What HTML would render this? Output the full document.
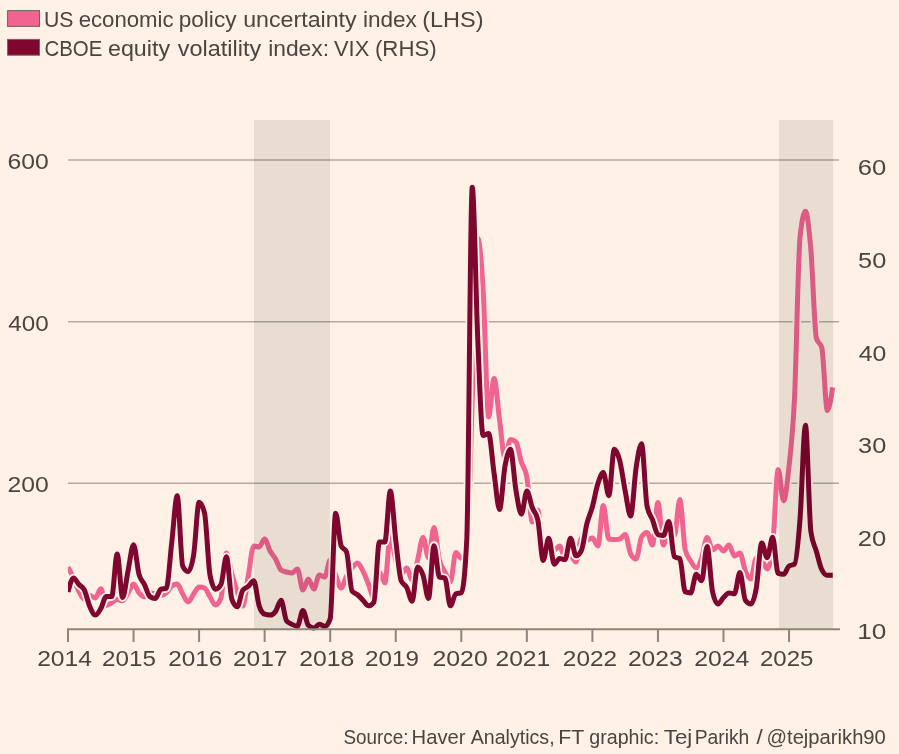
<!DOCTYPE html>
<html lang="en"><head><meta charset="utf-8"><title>US economic policy uncertainty and VIX</title>
<style>
html,body{margin:0;padding:0;background:#FFF1E5;}
body{width:899px;height:754px;overflow:hidden;}
svg{display:block;}
text{font-family:"Liberation Sans",Arial,Helvetica,sans-serif;fill:#4A4542;}
</style></head><body>
<svg width="899" height="754" viewBox="0 0 899 754">
<defs><clipPath id="plot"><rect x="68" y="100" width="780" height="540"/></clipPath></defs>
<rect x="0" y="0" width="899" height="754" fill="#FFF1E5"/>
<g id="legend-swatches">
<rect x="7.6" y="10.6" width="31.9" height="15.8" fill="#F0648F" stroke="#6b6662" stroke-width="1"/>
<rect x="7.6" y="39.4" width="31.9" height="15.8" fill="#7F062E" stroke="#6b6662" stroke-width="1"/>
</g>
<g id="grid" stroke="#B3A9A0" stroke-width="1.6" fill="none">
<line x1="68" y1="160" x2="839" y2="160"/>
<line x1="68" y1="321.7" x2="839" y2="321.7"/>
<line x1="68" y1="483.3" x2="839" y2="483.3"/>
</g>
<g id="lines" fill="none" stroke-linejoin="round" stroke-linecap="butt" clip-path="url(#plot)">
<path d="M68.00,567.30C69.82,570.64 71.64,573.98 73.46,578.00C75.28,582.02 77.10,587.83 78.92,591.40C80.75,594.97 82.57,599.40 84.39,599.40C86.21,599.40 88.03,595.40 89.85,595.40C91.67,595.40 93.49,598.00 95.31,598.00C97.13,598.00 98.95,588.70 100.78,588.70C102.60,588.70 104.42,605.40 106.24,605.40C108.06,605.40 109.88,603.80 111.70,602.80C113.52,601.80 115.34,599.40 117.16,599.40C118.98,599.40 120.80,600.80 122.62,600.80C124.45,600.80 126.27,595.60 128.09,592.80C129.91,590.00 131.73,584.00 133.55,584.00C135.37,584.00 137.19,590.67 139.01,592.80C140.83,594.93 142.65,596.80 144.48,596.80C146.30,596.80 148.12,592.80 149.94,592.80C151.76,592.80 153.58,593.57 155.40,594.00C157.22,594.43 159.04,595.40 160.86,595.40C162.68,595.40 164.50,594.37 166.32,592.80C168.15,591.23 169.97,587.33 171.79,586.00C173.61,584.67 175.43,584.00 177.25,584.00C179.07,584.00 180.89,591.00 182.71,594.00C184.53,597.00 186.35,602.00 188.18,602.00C190.00,602.00 191.82,596.50 193.64,594.00C195.46,591.50 197.28,587.00 199.10,587.00C200.92,587.00 202.74,587.33 204.56,588.00C206.38,588.67 208.20,594.17 210.03,597.00C211.85,599.83 213.67,605.00 215.49,605.00C217.31,605.00 219.13,602.67 220.95,598.00C222.77,593.33 224.59,553.00 226.41,553.00C228.23,553.00 230.05,567.50 231.88,574.00C233.70,580.50 235.52,586.67 237.34,592.00C239.16,597.33 240.98,606.00 242.80,606.00C244.62,606.00 246.44,586.00 248.26,576.00C250.08,566.00 251.90,546.00 253.73,546.00C255.55,546.00 257.37,547.00 259.19,547.00C261.01,547.00 262.83,539.00 264.65,539.00C266.47,539.00 268.29,547.67 270.11,551.00C271.93,554.33 273.75,555.83 275.58,559.00C277.40,562.17 279.22,568.67 281.04,570.00C282.86,571.33 284.68,571.50 286.50,572.00C288.32,572.50 290.14,573.00 291.96,573.00C293.78,573.00 295.60,569.00 297.43,569.00C299.25,569.00 301.07,590.00 302.89,590.00C304.71,590.00 306.53,579.00 308.35,579.00C310.17,579.00 311.99,589.00 313.81,589.00C315.63,589.00 317.45,575.00 319.27,575.00C321.10,575.00 322.92,577.00 324.74,577.00C326.56,577.00 328.38,560.00 330.20,560.00C332.02,560.00 333.84,570.33 335.66,575.00C337.48,579.67 339.30,588.00 341.12,588.00C342.95,588.00 344.77,579.33 346.59,576.00C348.41,572.67 350.23,570.17 352.05,568.00C353.87,565.83 355.69,563.00 357.51,563.00C359.33,563.00 361.15,567.50 362.98,571.00C364.80,574.50 366.62,579.50 368.44,584.00C370.26,588.50 372.08,598.00 373.90,598.00C375.72,598.00 377.54,572.00 379.36,572.00C381.18,572.00 383.00,583.00 384.83,583.00C386.65,583.00 388.47,536.00 390.29,536.00C392.11,536.00 393.93,553.67 395.75,560.00C397.57,566.33 399.39,574.00 401.21,574.00C403.03,574.00 404.85,568.00 406.68,568.00C408.50,568.00 410.32,580.00 412.14,580.00C413.96,580.00 415.78,567.08 417.60,560.00C419.42,552.92 421.24,537.50 423.06,537.50C424.88,537.50 426.70,558.00 428.53,558.00C430.35,558.00 432.17,527.50 433.99,527.50C435.81,527.50 437.63,552.58 439.45,560.00C441.27,567.42 443.09,568.33 444.91,572.00C446.73,575.67 448.55,582.00 450.38,582.00C452.20,582.00 454.02,552.50 455.84,552.50C457.66,552.50 459.48,558.00 461.30,558.00C463.12,558.00 464.94,556.00 466.76,552.00C468.58,548.00 470.40,452.33 472.23,400.00C474.05,347.67 475.87,238.00 477.69,238.00C479.51,238.00 481.33,260.17 483.15,290.00C484.97,319.83 486.79,417.00 488.61,417.00C490.43,417.00 492.25,378.40 494.08,378.40C495.90,378.40 497.72,406.73 499.54,420.00C501.36,433.27 503.18,458.00 505.00,458.00C506.82,458.00 508.64,439.60 510.46,439.60C512.28,439.60 514.10,440.40 515.92,442.00C517.75,443.60 519.57,456.17 521.39,462.00C523.21,467.83 525.03,467.00 526.85,477.00C528.67,487.00 530.49,522.00 532.31,522.00C534.13,522.00 535.95,510.00 537.78,510.00C539.60,510.00 541.42,552.00 543.24,552.00C545.06,552.00 546.88,545.00 548.70,545.00C550.52,545.00 552.34,550.00 554.16,550.00C555.98,550.00 557.80,546.00 559.62,546.00C561.45,546.00 563.27,558.00 565.09,558.00C566.91,558.00 568.73,556.00 570.55,556.00C572.37,556.00 574.19,562.00 576.01,562.00C577.83,562.00 579.65,538.00 581.48,538.00C583.30,538.00 585.12,540.00 586.94,540.00C588.76,540.00 590.58,538.00 592.40,538.00C594.22,538.00 596.04,546.00 597.86,546.00C599.68,546.00 601.50,505.60 603.33,505.60C605.15,505.60 606.97,538.60 608.79,539.00C610.61,539.40 612.43,539.60 614.25,539.60C616.07,539.60 617.89,539.40 619.71,539.00C621.53,538.60 623.35,534.60 625.18,534.60C627.00,534.60 628.82,550.67 630.64,554.00C632.46,557.33 634.28,559.00 636.10,559.00C637.92,559.00 639.74,540.00 641.56,537.00C643.38,534.00 645.20,532.50 647.03,532.50C648.85,532.50 650.67,545.00 652.49,545.00C654.31,545.00 656.13,502.40 657.95,502.40C659.77,502.40 661.59,545.00 663.41,545.00C665.23,545.00 667.05,530.00 668.88,530.00C670.70,530.00 672.52,536.00 674.34,536.00C676.16,536.00 677.98,499.40 679.80,499.40C681.62,499.40 683.44,542.67 685.26,550.00C687.08,557.33 688.90,558.00 690.73,561.00C692.55,564.00 694.37,568.00 696.19,568.00C698.01,568.00 699.83,563.10 701.65,558.00C703.47,552.90 705.29,537.40 707.11,537.40C708.93,537.40 710.75,550.00 712.58,550.00C714.40,550.00 716.22,546.00 718.04,546.00C719.86,546.00 721.68,551.00 723.50,551.00C725.32,551.00 727.14,545.00 728.96,545.00C730.78,545.00 732.60,556.00 734.43,556.00C736.25,556.00 738.07,553.00 739.89,553.00C741.71,553.00 743.53,566.67 745.35,571.00C747.17,575.33 748.99,579.00 750.81,579.00C752.63,579.00 754.45,558.00 756.28,558.00C758.10,558.00 759.92,558.67 761.74,560.00C763.56,561.33 765.38,569.00 767.20,569.00C769.02,569.00 770.84,561.33 772.66,546.00C774.48,530.67 776.30,469.60 778.12,469.60C779.95,469.60 781.77,500.80 783.59,500.80C785.41,500.80 787.23,483.13 789.05,466.00C790.87,448.87 792.69,436.00 794.51,398.00C796.33,360.00 798.15,255.80 799.98,238.00C801.80,220.20 803.62,211.30 805.44,211.30C807.26,211.30 809.08,228.88 810.90,250.00C812.72,271.12 814.54,331.33 816.36,338.00C818.18,344.67 820.00,341.33 821.83,348.00C823.65,354.67 825.47,410.50 827.29,410.50C829.11,410.50 830.93,398.90 832.75,387.30" stroke="#FFF1E5" stroke-width="8.6"/>
<path d="M68.00,567.30C69.82,570.64 71.64,573.98 73.46,578.00C75.28,582.02 77.10,587.83 78.92,591.40C80.75,594.97 82.57,599.40 84.39,599.40C86.21,599.40 88.03,595.40 89.85,595.40C91.67,595.40 93.49,598.00 95.31,598.00C97.13,598.00 98.95,588.70 100.78,588.70C102.60,588.70 104.42,605.40 106.24,605.40C108.06,605.40 109.88,603.80 111.70,602.80C113.52,601.80 115.34,599.40 117.16,599.40C118.98,599.40 120.80,600.80 122.62,600.80C124.45,600.80 126.27,595.60 128.09,592.80C129.91,590.00 131.73,584.00 133.55,584.00C135.37,584.00 137.19,590.67 139.01,592.80C140.83,594.93 142.65,596.80 144.48,596.80C146.30,596.80 148.12,592.80 149.94,592.80C151.76,592.80 153.58,593.57 155.40,594.00C157.22,594.43 159.04,595.40 160.86,595.40C162.68,595.40 164.50,594.37 166.32,592.80C168.15,591.23 169.97,587.33 171.79,586.00C173.61,584.67 175.43,584.00 177.25,584.00C179.07,584.00 180.89,591.00 182.71,594.00C184.53,597.00 186.35,602.00 188.18,602.00C190.00,602.00 191.82,596.50 193.64,594.00C195.46,591.50 197.28,587.00 199.10,587.00C200.92,587.00 202.74,587.33 204.56,588.00C206.38,588.67 208.20,594.17 210.03,597.00C211.85,599.83 213.67,605.00 215.49,605.00C217.31,605.00 219.13,602.67 220.95,598.00C222.77,593.33 224.59,553.00 226.41,553.00C228.23,553.00 230.05,567.50 231.88,574.00C233.70,580.50 235.52,586.67 237.34,592.00C239.16,597.33 240.98,606.00 242.80,606.00C244.62,606.00 246.44,586.00 248.26,576.00C250.08,566.00 251.90,546.00 253.73,546.00C255.55,546.00 257.37,547.00 259.19,547.00C261.01,547.00 262.83,539.00 264.65,539.00C266.47,539.00 268.29,547.67 270.11,551.00C271.93,554.33 273.75,555.83 275.58,559.00C277.40,562.17 279.22,568.67 281.04,570.00C282.86,571.33 284.68,571.50 286.50,572.00C288.32,572.50 290.14,573.00 291.96,573.00C293.78,573.00 295.60,569.00 297.43,569.00C299.25,569.00 301.07,590.00 302.89,590.00C304.71,590.00 306.53,579.00 308.35,579.00C310.17,579.00 311.99,589.00 313.81,589.00C315.63,589.00 317.45,575.00 319.27,575.00C321.10,575.00 322.92,577.00 324.74,577.00C326.56,577.00 328.38,560.00 330.20,560.00C332.02,560.00 333.84,570.33 335.66,575.00C337.48,579.67 339.30,588.00 341.12,588.00C342.95,588.00 344.77,579.33 346.59,576.00C348.41,572.67 350.23,570.17 352.05,568.00C353.87,565.83 355.69,563.00 357.51,563.00C359.33,563.00 361.15,567.50 362.98,571.00C364.80,574.50 366.62,579.50 368.44,584.00C370.26,588.50 372.08,598.00 373.90,598.00C375.72,598.00 377.54,572.00 379.36,572.00C381.18,572.00 383.00,583.00 384.83,583.00C386.65,583.00 388.47,536.00 390.29,536.00C392.11,536.00 393.93,553.67 395.75,560.00C397.57,566.33 399.39,574.00 401.21,574.00C403.03,574.00 404.85,568.00 406.68,568.00C408.50,568.00 410.32,580.00 412.14,580.00C413.96,580.00 415.78,567.08 417.60,560.00C419.42,552.92 421.24,537.50 423.06,537.50C424.88,537.50 426.70,558.00 428.53,558.00C430.35,558.00 432.17,527.50 433.99,527.50C435.81,527.50 437.63,552.58 439.45,560.00C441.27,567.42 443.09,568.33 444.91,572.00C446.73,575.67 448.55,582.00 450.38,582.00C452.20,582.00 454.02,552.50 455.84,552.50C457.66,552.50 459.48,558.00 461.30,558.00C463.12,558.00 464.94,556.00 466.76,552.00C468.58,548.00 470.40,452.33 472.23,400.00C474.05,347.67 475.87,238.00 477.69,238.00C479.51,238.00 481.33,260.17 483.15,290.00C484.97,319.83 486.79,417.00 488.61,417.00C490.43,417.00 492.25,378.40 494.08,378.40C495.90,378.40 497.72,406.73 499.54,420.00C501.36,433.27 503.18,458.00 505.00,458.00C506.82,458.00 508.64,439.60 510.46,439.60C512.28,439.60 514.10,440.40 515.92,442.00C517.75,443.60 519.57,456.17 521.39,462.00C523.21,467.83 525.03,467.00 526.85,477.00C528.67,487.00 530.49,522.00 532.31,522.00C534.13,522.00 535.95,510.00 537.78,510.00C539.60,510.00 541.42,552.00 543.24,552.00C545.06,552.00 546.88,545.00 548.70,545.00C550.52,545.00 552.34,550.00 554.16,550.00C555.98,550.00 557.80,546.00 559.62,546.00C561.45,546.00 563.27,558.00 565.09,558.00C566.91,558.00 568.73,556.00 570.55,556.00C572.37,556.00 574.19,562.00 576.01,562.00C577.83,562.00 579.65,538.00 581.48,538.00C583.30,538.00 585.12,540.00 586.94,540.00C588.76,540.00 590.58,538.00 592.40,538.00C594.22,538.00 596.04,546.00 597.86,546.00C599.68,546.00 601.50,505.60 603.33,505.60C605.15,505.60 606.97,538.60 608.79,539.00C610.61,539.40 612.43,539.60 614.25,539.60C616.07,539.60 617.89,539.40 619.71,539.00C621.53,538.60 623.35,534.60 625.18,534.60C627.00,534.60 628.82,550.67 630.64,554.00C632.46,557.33 634.28,559.00 636.10,559.00C637.92,559.00 639.74,540.00 641.56,537.00C643.38,534.00 645.20,532.50 647.03,532.50C648.85,532.50 650.67,545.00 652.49,545.00C654.31,545.00 656.13,502.40 657.95,502.40C659.77,502.40 661.59,545.00 663.41,545.00C665.23,545.00 667.05,530.00 668.88,530.00C670.70,530.00 672.52,536.00 674.34,536.00C676.16,536.00 677.98,499.40 679.80,499.40C681.62,499.40 683.44,542.67 685.26,550.00C687.08,557.33 688.90,558.00 690.73,561.00C692.55,564.00 694.37,568.00 696.19,568.00C698.01,568.00 699.83,563.10 701.65,558.00C703.47,552.90 705.29,537.40 707.11,537.40C708.93,537.40 710.75,550.00 712.58,550.00C714.40,550.00 716.22,546.00 718.04,546.00C719.86,546.00 721.68,551.00 723.50,551.00C725.32,551.00 727.14,545.00 728.96,545.00C730.78,545.00 732.60,556.00 734.43,556.00C736.25,556.00 738.07,553.00 739.89,553.00C741.71,553.00 743.53,566.67 745.35,571.00C747.17,575.33 748.99,579.00 750.81,579.00C752.63,579.00 754.45,558.00 756.28,558.00C758.10,558.00 759.92,558.67 761.74,560.00C763.56,561.33 765.38,569.00 767.20,569.00C769.02,569.00 770.84,561.33 772.66,546.00C774.48,530.67 776.30,469.60 778.12,469.60C779.95,469.60 781.77,500.80 783.59,500.80C785.41,500.80 787.23,483.13 789.05,466.00C790.87,448.87 792.69,436.00 794.51,398.00C796.33,360.00 798.15,255.80 799.98,238.00C801.80,220.20 803.62,211.30 805.44,211.30C807.26,211.30 809.08,228.88 810.90,250.00C812.72,271.12 814.54,331.33 816.36,338.00C818.18,344.67 820.00,341.33 821.83,348.00C823.65,354.67 825.47,410.50 827.29,410.50C829.11,410.50 830.93,398.90 832.75,387.30" stroke="#F0648F" stroke-width="5.0"/>
<path d="M68.00,591.96C69.82,585.01 71.64,578.07 73.46,578.07C75.28,578.07 77.10,582.55 78.92,584.55C80.75,586.56 82.57,586.40 84.39,590.11C86.21,593.81 88.03,602.61 89.85,606.78C91.67,610.94 93.49,615.11 95.31,615.11C97.13,615.11 98.95,611.71 100.78,608.63C102.60,605.54 104.42,596.59 106.24,596.59C108.06,596.59 109.88,596.59 111.70,596.59C113.52,596.59 115.34,553.99 117.16,553.99C118.98,553.99 120.80,597.52 122.62,597.52C124.45,597.52 126.27,579.46 128.09,570.66C129.91,561.87 131.73,544.73 133.55,544.73C135.37,544.73 137.19,567.73 139.01,574.37C140.83,581.00 142.65,580.85 144.48,584.55C146.30,588.26 148.12,595.36 149.94,596.59C151.76,597.82 153.58,598.44 155.40,598.44C157.22,598.44 159.04,589.80 160.86,589.18C162.68,588.56 164.50,588.87 166.32,588.26C168.15,587.64 169.97,557.39 171.79,541.96C173.61,526.52 175.43,495.66 177.25,495.66C179.07,495.66 180.89,562.33 182.71,566.03C184.53,569.74 186.35,571.59 188.18,571.59C190.00,571.59 191.82,566.03 193.64,554.92C195.46,543.81 197.28,502.14 199.10,502.14C200.92,502.14 202.74,505.84 204.56,513.25C206.38,520.66 208.20,566.03 210.03,575.29C211.85,584.55 213.67,589.18 215.49,589.18C217.31,589.18 219.13,587.64 220.95,584.55C222.77,581.47 224.59,556.77 226.41,556.77C228.23,556.77 230.05,594.43 231.88,599.37C233.70,604.31 235.52,606.78 237.34,606.78C239.16,606.78 240.98,592.58 242.80,590.11C244.62,587.64 246.44,587.95 248.26,586.40C250.08,584.86 251.90,580.85 253.73,580.85C255.55,580.85 257.37,600.29 259.19,605.85C261.01,611.41 262.83,613.57 264.65,614.18C266.47,614.80 268.29,615.11 270.11,615.11C271.93,615.11 273.75,613.88 275.58,611.41C277.40,608.94 279.22,600.29 281.04,600.29C282.86,600.29 284.68,618.20 286.50,620.67C288.32,623.14 290.14,623.44 291.96,624.37C293.78,625.30 295.60,626.22 297.43,626.22C299.25,626.22 301.07,610.48 302.89,610.48C304.71,610.48 306.53,623.44 308.35,625.30C310.17,627.15 311.99,628.07 313.81,628.07C315.63,628.07 317.45,624.37 319.27,624.37C321.10,624.37 322.92,626.22 324.74,626.22C326.56,626.22 328.38,623.75 330.20,618.81C332.02,613.88 333.84,513.25 335.66,513.25C337.48,513.25 339.30,541.34 341.12,545.66C342.95,549.98 344.77,547.82 346.59,552.14C348.41,556.46 350.23,588.56 352.05,591.03C353.87,593.50 355.69,593.19 357.51,594.74C359.33,596.28 361.15,598.44 362.98,600.29C364.80,602.15 366.62,605.85 368.44,605.85C370.26,605.85 372.08,604.62 373.90,602.15C375.72,599.68 377.54,541.96 379.36,541.96C381.18,541.96 383.00,541.96 384.83,541.96C386.65,541.96 388.47,491.03 390.29,491.03C392.11,491.03 393.93,525.13 395.75,540.10C397.57,555.07 399.39,576.53 401.21,580.85C403.03,585.17 404.85,583.93 406.68,587.33C408.50,590.73 410.32,601.22 412.14,601.22C413.96,601.22 415.78,566.96 417.60,566.96C419.42,566.96 421.24,570.04 423.06,575.29C424.88,580.54 426.70,598.44 428.53,598.44C430.35,598.44 432.17,545.66 433.99,545.66C435.81,545.66 437.63,576.53 439.45,577.14C441.27,577.76 443.09,577.45 444.91,578.07C446.73,578.69 448.55,605.85 450.38,605.85C452.20,605.85 454.02,594.43 455.84,593.81C457.66,593.19 459.48,593.50 461.30,592.89C463.12,592.27 464.94,575.29 466.76,540.10C468.58,504.92 470.40,187.30 472.23,187.30C474.05,187.30 475.87,295.95 477.69,337.31C479.51,378.67 481.33,435.47 483.15,435.47C484.97,435.47 486.79,433.61 488.61,433.61C490.43,433.61 492.25,460.78 494.08,473.43C495.90,486.09 497.72,509.55 499.54,509.55C501.36,509.55 503.18,476.06 505.00,466.02C506.82,455.99 508.64,449.36 510.46,449.36C512.28,449.36 514.10,479.30 515.92,490.10C517.75,500.90 519.57,514.18 521.39,514.18C523.21,514.18 525.03,491.03 526.85,491.03C528.67,491.03 530.49,502.91 532.31,507.69C534.13,512.48 535.95,511.71 537.78,519.73C539.60,527.76 541.42,560.48 543.24,560.48C545.06,560.48 546.88,538.25 548.70,538.25C550.52,538.25 552.34,564.18 554.16,564.18C555.98,564.18 557.80,558.62 559.62,558.62C561.45,558.62 563.27,559.55 565.09,559.55C566.91,559.55 568.73,538.25 570.55,538.25C572.37,538.25 574.19,555.85 576.01,555.85C577.83,555.85 579.65,553.99 581.48,550.29C583.30,546.59 585.12,530.69 586.94,523.44C588.76,516.18 590.58,513.40 592.40,506.77C594.22,500.13 596.04,489.33 597.86,483.62C599.68,477.91 601.50,472.51 603.33,472.51C605.15,472.51 606.97,495.66 608.79,495.66C610.61,495.66 612.43,449.36 614.25,449.36C616.07,449.36 617.89,453.52 619.71,460.47C621.53,467.41 623.35,481.77 625.18,491.03C627.00,500.29 628.82,516.03 630.64,516.03C632.46,516.03 634.28,479.91 636.10,467.88C637.92,455.84 639.74,443.80 641.56,443.80C643.38,443.80 645.20,496.58 647.03,505.84C648.85,515.10 650.67,514.95 652.49,519.73C654.31,524.52 656.13,533.93 657.95,534.55C659.77,535.17 661.59,535.47 663.41,535.47C665.23,535.47 667.05,521.58 668.88,521.58C670.70,521.58 672.52,555.54 674.34,556.77C676.16,558.01 677.98,557.39 679.80,558.62C681.62,559.86 683.44,591.34 685.26,591.96C687.08,592.58 688.90,592.89 690.73,592.89C692.55,592.89 694.37,574.37 696.19,574.37C698.01,574.37 699.83,580.85 701.65,580.85C703.47,580.85 705.29,546.59 707.11,546.59C708.93,546.59 710.75,583.93 712.58,591.96C714.40,599.99 716.22,604.00 718.04,604.00C719.86,604.00 721.68,599.37 723.50,597.52C725.32,595.66 727.14,592.89 728.96,592.89C730.78,592.89 732.60,593.81 734.43,593.81C736.25,593.81 738.07,572.51 739.89,572.51C741.71,572.51 743.53,597.82 745.35,600.29C747.17,602.76 748.99,604.00 750.81,604.00C752.63,604.00 754.45,598.44 756.28,588.26C758.10,578.07 759.92,542.88 761.74,542.88C763.56,542.88 765.38,557.70 767.20,557.70C769.02,557.70 770.84,537.33 772.66,537.33C774.48,537.33 776.30,572.82 778.12,573.44C779.95,574.06 781.77,574.37 783.59,574.37C785.41,574.37 787.23,567.27 789.05,566.03C790.87,564.80 792.69,565.41 794.51,564.18C796.33,562.95 798.15,542.88 799.98,519.73C801.80,496.58 803.62,425.28 805.44,425.28C807.26,425.28 809.08,518.81 810.90,531.77C812.72,544.73 814.54,544.89 816.36,551.22C818.18,557.54 820.00,566.03 821.83,569.74C823.65,573.44 825.47,575.29 827.29,575.29C829.11,575.29 830.93,575.29 832.75,575.29" stroke="#FFF1E5" stroke-width="8.6"/>
<path d="M68.00,591.96C69.82,585.01 71.64,578.07 73.46,578.07C75.28,578.07 77.10,582.55 78.92,584.55C80.75,586.56 82.57,586.40 84.39,590.11C86.21,593.81 88.03,602.61 89.85,606.78C91.67,610.94 93.49,615.11 95.31,615.11C97.13,615.11 98.95,611.71 100.78,608.63C102.60,605.54 104.42,596.59 106.24,596.59C108.06,596.59 109.88,596.59 111.70,596.59C113.52,596.59 115.34,553.99 117.16,553.99C118.98,553.99 120.80,597.52 122.62,597.52C124.45,597.52 126.27,579.46 128.09,570.66C129.91,561.87 131.73,544.73 133.55,544.73C135.37,544.73 137.19,567.73 139.01,574.37C140.83,581.00 142.65,580.85 144.48,584.55C146.30,588.26 148.12,595.36 149.94,596.59C151.76,597.82 153.58,598.44 155.40,598.44C157.22,598.44 159.04,589.80 160.86,589.18C162.68,588.56 164.50,588.87 166.32,588.26C168.15,587.64 169.97,557.39 171.79,541.96C173.61,526.52 175.43,495.66 177.25,495.66C179.07,495.66 180.89,562.33 182.71,566.03C184.53,569.74 186.35,571.59 188.18,571.59C190.00,571.59 191.82,566.03 193.64,554.92C195.46,543.81 197.28,502.14 199.10,502.14C200.92,502.14 202.74,505.84 204.56,513.25C206.38,520.66 208.20,566.03 210.03,575.29C211.85,584.55 213.67,589.18 215.49,589.18C217.31,589.18 219.13,587.64 220.95,584.55C222.77,581.47 224.59,556.77 226.41,556.77C228.23,556.77 230.05,594.43 231.88,599.37C233.70,604.31 235.52,606.78 237.34,606.78C239.16,606.78 240.98,592.58 242.80,590.11C244.62,587.64 246.44,587.95 248.26,586.40C250.08,584.86 251.90,580.85 253.73,580.85C255.55,580.85 257.37,600.29 259.19,605.85C261.01,611.41 262.83,613.57 264.65,614.18C266.47,614.80 268.29,615.11 270.11,615.11C271.93,615.11 273.75,613.88 275.58,611.41C277.40,608.94 279.22,600.29 281.04,600.29C282.86,600.29 284.68,618.20 286.50,620.67C288.32,623.14 290.14,623.44 291.96,624.37C293.78,625.30 295.60,626.22 297.43,626.22C299.25,626.22 301.07,610.48 302.89,610.48C304.71,610.48 306.53,623.44 308.35,625.30C310.17,627.15 311.99,628.07 313.81,628.07C315.63,628.07 317.45,624.37 319.27,624.37C321.10,624.37 322.92,626.22 324.74,626.22C326.56,626.22 328.38,623.75 330.20,618.81C332.02,613.88 333.84,513.25 335.66,513.25C337.48,513.25 339.30,541.34 341.12,545.66C342.95,549.98 344.77,547.82 346.59,552.14C348.41,556.46 350.23,588.56 352.05,591.03C353.87,593.50 355.69,593.19 357.51,594.74C359.33,596.28 361.15,598.44 362.98,600.29C364.80,602.15 366.62,605.85 368.44,605.85C370.26,605.85 372.08,604.62 373.90,602.15C375.72,599.68 377.54,541.96 379.36,541.96C381.18,541.96 383.00,541.96 384.83,541.96C386.65,541.96 388.47,491.03 390.29,491.03C392.11,491.03 393.93,525.13 395.75,540.10C397.57,555.07 399.39,576.53 401.21,580.85C403.03,585.17 404.85,583.93 406.68,587.33C408.50,590.73 410.32,601.22 412.14,601.22C413.96,601.22 415.78,566.96 417.60,566.96C419.42,566.96 421.24,570.04 423.06,575.29C424.88,580.54 426.70,598.44 428.53,598.44C430.35,598.44 432.17,545.66 433.99,545.66C435.81,545.66 437.63,576.53 439.45,577.14C441.27,577.76 443.09,577.45 444.91,578.07C446.73,578.69 448.55,605.85 450.38,605.85C452.20,605.85 454.02,594.43 455.84,593.81C457.66,593.19 459.48,593.50 461.30,592.89C463.12,592.27 464.94,575.29 466.76,540.10C468.58,504.92 470.40,187.30 472.23,187.30C474.05,187.30 475.87,295.95 477.69,337.31C479.51,378.67 481.33,435.47 483.15,435.47C484.97,435.47 486.79,433.61 488.61,433.61C490.43,433.61 492.25,460.78 494.08,473.43C495.90,486.09 497.72,509.55 499.54,509.55C501.36,509.55 503.18,476.06 505.00,466.02C506.82,455.99 508.64,449.36 510.46,449.36C512.28,449.36 514.10,479.30 515.92,490.10C517.75,500.90 519.57,514.18 521.39,514.18C523.21,514.18 525.03,491.03 526.85,491.03C528.67,491.03 530.49,502.91 532.31,507.69C534.13,512.48 535.95,511.71 537.78,519.73C539.60,527.76 541.42,560.48 543.24,560.48C545.06,560.48 546.88,538.25 548.70,538.25C550.52,538.25 552.34,564.18 554.16,564.18C555.98,564.18 557.80,558.62 559.62,558.62C561.45,558.62 563.27,559.55 565.09,559.55C566.91,559.55 568.73,538.25 570.55,538.25C572.37,538.25 574.19,555.85 576.01,555.85C577.83,555.85 579.65,553.99 581.48,550.29C583.30,546.59 585.12,530.69 586.94,523.44C588.76,516.18 590.58,513.40 592.40,506.77C594.22,500.13 596.04,489.33 597.86,483.62C599.68,477.91 601.50,472.51 603.33,472.51C605.15,472.51 606.97,495.66 608.79,495.66C610.61,495.66 612.43,449.36 614.25,449.36C616.07,449.36 617.89,453.52 619.71,460.47C621.53,467.41 623.35,481.77 625.18,491.03C627.00,500.29 628.82,516.03 630.64,516.03C632.46,516.03 634.28,479.91 636.10,467.88C637.92,455.84 639.74,443.80 641.56,443.80C643.38,443.80 645.20,496.58 647.03,505.84C648.85,515.10 650.67,514.95 652.49,519.73C654.31,524.52 656.13,533.93 657.95,534.55C659.77,535.17 661.59,535.47 663.41,535.47C665.23,535.47 667.05,521.58 668.88,521.58C670.70,521.58 672.52,555.54 674.34,556.77C676.16,558.01 677.98,557.39 679.80,558.62C681.62,559.86 683.44,591.34 685.26,591.96C687.08,592.58 688.90,592.89 690.73,592.89C692.55,592.89 694.37,574.37 696.19,574.37C698.01,574.37 699.83,580.85 701.65,580.85C703.47,580.85 705.29,546.59 707.11,546.59C708.93,546.59 710.75,583.93 712.58,591.96C714.40,599.99 716.22,604.00 718.04,604.00C719.86,604.00 721.68,599.37 723.50,597.52C725.32,595.66 727.14,592.89 728.96,592.89C730.78,592.89 732.60,593.81 734.43,593.81C736.25,593.81 738.07,572.51 739.89,572.51C741.71,572.51 743.53,597.82 745.35,600.29C747.17,602.76 748.99,604.00 750.81,604.00C752.63,604.00 754.45,598.44 756.28,588.26C758.10,578.07 759.92,542.88 761.74,542.88C763.56,542.88 765.38,557.70 767.20,557.70C769.02,557.70 770.84,537.33 772.66,537.33C774.48,537.33 776.30,572.82 778.12,573.44C779.95,574.06 781.77,574.37 783.59,574.37C785.41,574.37 787.23,567.27 789.05,566.03C790.87,564.80 792.69,565.41 794.51,564.18C796.33,562.95 798.15,542.88 799.98,519.73C801.80,496.58 803.62,425.28 805.44,425.28C807.26,425.28 809.08,518.81 810.90,531.77C812.72,544.73 814.54,544.89 816.36,551.22C818.18,557.54 820.00,566.03 821.83,569.74C823.65,573.44 825.47,575.29 827.29,575.29C829.11,575.29 830.93,575.29 832.75,575.29" stroke="#7F062E" stroke-width="5.0"/>
</g>
<g id="shade" fill="#000" fill-opacity="0.085">
<rect x="254" y="120" width="76" height="509"/>
<rect x="779" y="120" width="54.2" height="509"/>
</g>
<g id="xaxis">
<path d="M67,629.3H840" stroke="#8c857f" stroke-width="2" fill="none"/>
<g stroke="#8c857f" stroke-width="2">
<line x1="68.00" y1="629" x2="68.00" y2="642"/>
<line x1="133.55" y1="629" x2="133.55" y2="642"/>
<line x1="199.10" y1="629" x2="199.10" y2="642"/>
<line x1="264.65" y1="629" x2="264.65" y2="642"/>
<line x1="330.20" y1="629" x2="330.20" y2="642"/>
<line x1="395.75" y1="629" x2="395.75" y2="642"/>
<line x1="461.30" y1="629" x2="461.30" y2="642"/>
<line x1="526.85" y1="629" x2="526.85" y2="642"/>
<line x1="592.40" y1="629" x2="592.40" y2="642"/>
<line x1="657.95" y1="629" x2="657.95" y2="642"/>
<line x1="723.50" y1="629" x2="723.50" y2="642"/>
<line x1="789.05" y1="629" x2="789.05" y2="642"/>
</g></g>
<g id="labels">
<text class="lg" y="26.9" font-size="22.7"><tspan x="43.96" textLength="29.5" lengthAdjust="spacingAndGlyphs">US</tspan> <tspan x="78.67" textLength="94.92" lengthAdjust="spacingAndGlyphs">economic</tspan> <tspan x="178.71" textLength="57.81" lengthAdjust="spacingAndGlyphs">policy</tspan> <tspan x="243.17" textLength="113.52" lengthAdjust="spacingAndGlyphs">uncertainty</tspan> <tspan x="362.91" textLength="53.94" lengthAdjust="spacingAndGlyphs">index</tspan> <tspan x="422.15" textLength="61.41" lengthAdjust="spacingAndGlyphs">(LHS)</tspan></text>
<text class="lg" y="55.8" font-size="22.7"><tspan x="44.48" textLength="57.87" lengthAdjust="spacingAndGlyphs">CBOE</tspan> <tspan x="107.97" textLength="62.07" lengthAdjust="spacingAndGlyphs">equity</tspan> <tspan x="177.84" textLength="83.41" lengthAdjust="spacingAndGlyphs">volatility</tspan> <tspan x="268.19" textLength="60.87" lengthAdjust="spacingAndGlyphs">index:</tspan> <tspan x="333.96" textLength="35.3" lengthAdjust="spacingAndGlyphs">VIX</tspan> <tspan x="374.93" textLength="61.76" lengthAdjust="spacingAndGlyphs">(RHS)</tspan></text>
<text class="src" y="744.0" font-size="20.5"><tspan x="343.38" textLength="65.08" lengthAdjust="spacingAndGlyphs">Source:</tspan> <tspan x="411.58" textLength="53.85" lengthAdjust="spacingAndGlyphs">Haver</tspan> <tspan x="470.7" textLength="83.9" lengthAdjust="spacingAndGlyphs">Analytics,</tspan> <tspan x="558.21" textLength="25.65" lengthAdjust="spacingAndGlyphs">FT</tspan> <tspan x="589.28" textLength="69.87" lengthAdjust="spacingAndGlyphs">graphic:</tspan> <tspan x="663.76" textLength="28.54" lengthAdjust="spacingAndGlyphs">Tej</tspan> <tspan x="694.66" textLength="54.62" lengthAdjust="spacingAndGlyphs">Parikh</tspan> <tspan x="756.4" textLength="6.22" lengthAdjust="spacingAndGlyphs">/</tspan> <tspan x="766.52" textLength="119.32" lengthAdjust="spacingAndGlyphs">@tejparikh90</tspan></text>
<text class="ax" y="665.9" font-size="22.9"><tspan x="37.16" textLength="54.78" lengthAdjust="spacingAndGlyphs">2014</tspan></text>
<text class="ax" y="665.9" font-size="22.9"><tspan x="102.08" textLength="53.92" lengthAdjust="spacingAndGlyphs">2015</tspan></text>
<text class="ax" y="665.9" font-size="22.9"><tspan x="168.17" textLength="54.12" lengthAdjust="spacingAndGlyphs">2016</tspan></text>
<text class="ax" y="665.9" font-size="22.9"><tspan x="232.96" textLength="54.51" lengthAdjust="spacingAndGlyphs">2017</tspan></text>
<text class="ax" y="665.9" font-size="22.9"><tspan x="299.25" textLength="55.17" lengthAdjust="spacingAndGlyphs">2018</tspan></text>
<text class="ax" y="665.9" font-size="22.9"><tspan x="364.98" textLength="53.98" lengthAdjust="spacingAndGlyphs">2019</tspan></text>
<text class="ax" y="665.9" font-size="22.9"><tspan x="432.44" textLength="55.27" lengthAdjust="spacingAndGlyphs">2020</tspan></text>
<text class="ax" y="665.9" font-size="22.9"><tspan x="495.45" textLength="54.82" lengthAdjust="spacingAndGlyphs">2021</tspan></text>
<text class="ax" y="665.9" font-size="22.9"><tspan x="562.87" textLength="54.19" lengthAdjust="spacingAndGlyphs">2022</tspan></text>
<text class="ax" y="665.9" font-size="22.9"><tspan x="627.96" textLength="54.65" lengthAdjust="spacingAndGlyphs">2023</tspan></text>
<text class="ax" y="665.9" font-size="22.9"><tspan x="694.25" textLength="55.1" lengthAdjust="spacingAndGlyphs">2024</tspan></text>
<text class="ax" y="665.9" font-size="22.9"><tspan x="759.99" textLength="53.39" lengthAdjust="spacingAndGlyphs">2025</tspan></text>
<text class="ax" y="169.1" font-size="22.9"><tspan x="7.55" textLength="41.28" lengthAdjust="spacingAndGlyphs">600</tspan></text>
<text class="ax" y="330.8" font-size="22.9"><tspan x="8.37" textLength="40.44" lengthAdjust="spacingAndGlyphs">400</tspan></text>
<text class="ax" y="492.4" font-size="22.9"><tspan x="7.55" textLength="41.28" lengthAdjust="spacingAndGlyphs">200</tspan></text>
<text class="ax" y="638.5" font-size="22.9"><tspan x="857.2" textLength="29.11" lengthAdjust="spacingAndGlyphs">10</tspan></text>
<text class="ax" y="545.8" font-size="22.9"><tspan x="857.8" textLength="28.48" lengthAdjust="spacingAndGlyphs">20</tspan></text>
<text class="ax" y="453.2" font-size="22.9"><tspan x="858.09" textLength="28.18" lengthAdjust="spacingAndGlyphs">30</tspan></text>
<text class="ax" y="360.5" font-size="22.9"><tspan x="858.66" textLength="27.59" lengthAdjust="spacingAndGlyphs">40</tspan></text>
<text class="ax" y="267.9" font-size="22.9"><tspan x="858.09" textLength="28.18" lengthAdjust="spacingAndGlyphs">50</tspan></text>
<text class="ax" y="175.2" font-size="22.9"><tspan x="857.8" textLength="28.48" lengthAdjust="spacingAndGlyphs">60</tspan></text>
</g>
</svg>
</body></html>
